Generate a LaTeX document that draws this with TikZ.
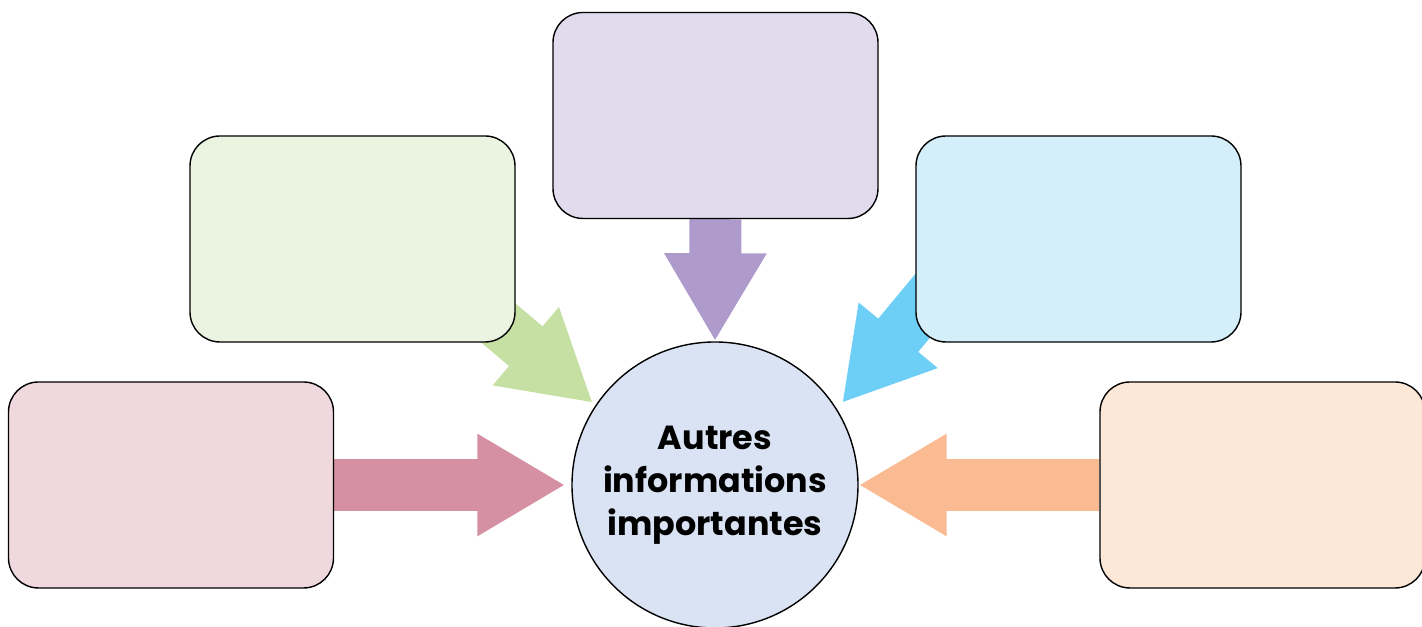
\documentclass[tikz,border=0pt]{standalone}
\usepackage{fontspec}
\newfontfamily\bubblefont{Poppins}
\usetikzlibrary{arrows.meta,calc,backgrounds}

\definecolor{lilacbox}{HTML}{E1DBED}
\definecolor{lilacarrow}{HTML}{AE9BCB}
\definecolor{greenbox}{HTML}{EBF3E1}
\definecolor{greenarrow}{HTML}{C6E0A3}
\definecolor{bluebox}{HTML}{D4EEFA}
\definecolor{bluearrow}{HTML}{6DCFF6}
\definecolor{pinkbox}{HTML}{EFD8DE}
\definecolor{pinkarrow}{HTML}{D690A3}
\definecolor{peachbox}{HTML}{FDE7D6}
\definecolor{peacharrow}{HTML}{FBBB92}
\definecolor{centrefill}{HTML}{DAE3F3}

\tikzset{
  infobox/.style={draw, rounded corners=0.3cm, minimum width=3.25cm, minimum height=2.06cm},
  fatarrow/.style={line width=0.52cm, -{Triangle[length=0.88cm,width=0.96cm]}},
}

\begin{document}
\begin{tikzpicture}
        \useasboundingbox (0,0) rectangle (14.22,6.27);

        \node[draw, circle, fill=centrefill, minimum size=2.86cm, inner sep=0pt, align=center,
              font=\bubblefont\bfseries\fontsize{9.5}{12.2}\selectfont] (info) at (7.15,1.42) {Autres\\informations\\importantes};
        \node[infobox, fill=lilacbox] (top) at (7.155,5.115) {};
        \node[infobox, fill=greenbox] (green) at (3.525,3.88) {};
        \node[infobox, fill=bluebox] (blue) at (10.785,3.88) {};
        \node[infobox, fill=pinkbox] (pink) at (1.71,1.42) {};
        \node[infobox, fill=peachbox] (peach) at (12.625,1.42) {};

        \coordinate (gtip) at (5.93,2.24);
        \coordinate (btip) at (8.42,2.24);
        \coordinate (gtail) at ($(gtip)+(139.8:2.2)$);
        \coordinate (btail) at ($(btip)+(50.3:2.2)$);

        \begin{pgfonlayer}{background}
        \draw[fatarrow, lilacarrow] (top.south) -- (info.north);
        \draw[fatarrow, greenarrow] (gtail) -- (gtip);
        \draw[fatarrow, bluearrow] (btail) -- (btip);
        \draw[fatarrow, pinkarrow] (pink.east) -- ([xshift=-0.06cm]info.west);
        \draw[fatarrow, peacharrow] (peach.west) -- (info.east);
        \end{pgfonlayer}
    \end{tikzpicture}
\end{document}
